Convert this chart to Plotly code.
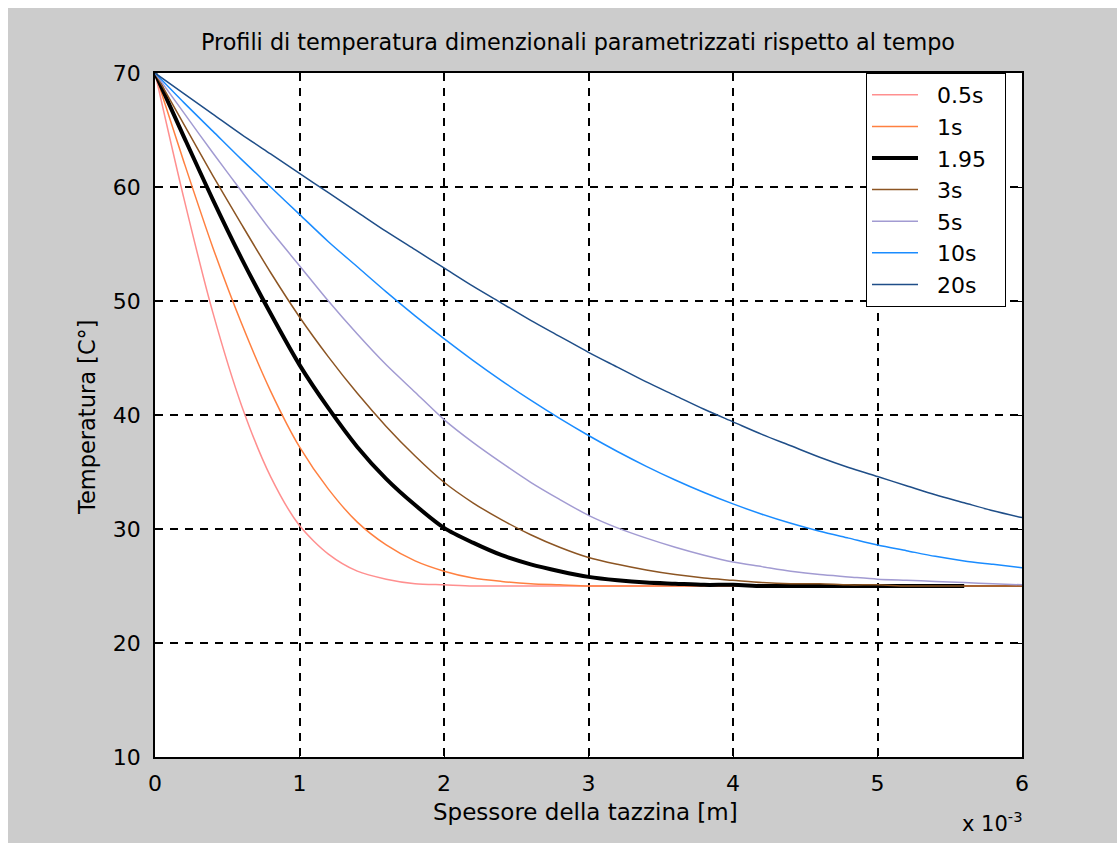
import plotly.graph_objects as go

# Thickness in units of 1e-3 m
thickness = [0.0, 0.2, 0.4, 0.6, 0.8, 1.0, 1.2, 1.4, 1.6, 1.8, 2.0, 2.2, 2.4, 2.6, 2.8,
             3.0, 3.2, 3.4, 3.6, 3.8, 4.0, 4.2, 4.4, 4.6, 4.8, 5.0, 5.2, 5.4, 5.6, 5.8, 6.0]

T_05s = [70.0, 59.0, 49.0, 40.8, 34.6, 30.3, 27.8, 26.3, 25.6, 25.2, 25.1, 25.0, 25.0, 25.0, 25.0,
         25.0, 25.0, 25.0, 25.0, 25.0, 25.0, 25.0, 25.0, 25.0, 25.0, 25.0, 25.0, 25.0, 25.0, 25.0, 25.0]
T_1s = [70.0, 62.2, 54.7, 48.0, 42.1, 37.2, 33.5, 30.6, 28.6, 27.2, 26.3, 25.7, 25.4, 25.2, 25.1,
        25.0, 25.0, 25.0, 25.0, 25.0, 25.0, 25.0, 25.0, 25.0, 25.0, 25.0, 25.0, 25.0, 25.0, 25.0, 25.0]
T_195 = [70.0, 64.4, 58.9, 53.7, 48.9, 44.4, 40.6, 37.2, 34.4, 32.1, 30.1, 28.8, 27.7, 26.9, 26.3,
         25.8, 25.5, 25.3, 25.2, 25.1, 25.1, 25.0, 25.0, 25.0, 25.0, 25.0, 25.0, 25.0, 25.0]
T_3s = [70.0, 65.5, 61.0, 56.7, 52.5, 48.6, 45.1, 41.9, 39.0, 36.4, 34.1, 32.3, 30.8, 29.5, 28.4,
        27.5, 26.9, 26.4, 26.0, 25.7, 25.5, 25.3, 25.2, 25.2, 25.1, 25.1, 25.0, 25.0, 25.0, 25.0, 25.0]
T_5s = [70.0, 66.5, 63.0, 59.6, 56.2, 53.1, 50.0, 47.1, 44.4, 42.0, 39.6, 37.6, 35.8, 34.1, 32.6,
        31.2, 30.1, 29.2, 28.4, 27.7, 27.1, 26.7, 26.3, 26.0, 25.8, 25.6, 25.5, 25.4, 25.3, 25.2, 25.1]
T_10s = [70.0, 67.4, 64.9, 62.4, 60.0, 57.6, 55.2, 53.0, 50.8, 48.7, 46.7, 44.8, 43.0, 41.3, 39.7,
         38.2, 36.8, 35.5, 34.3, 33.2, 32.2, 31.3, 30.5, 29.8, 29.2, 28.6, 28.1, 27.6, 27.2, 26.9, 26.6]
T_20s = [70.0, 68.2, 66.4, 64.6, 62.9, 61.2, 59.5, 57.8, 56.1, 54.5, 52.9, 51.3, 49.8, 48.3, 46.9,
         45.5, 44.2, 42.9, 41.7, 40.5, 39.4, 38.3, 37.3, 36.3, 35.4, 34.6, 33.8, 33.0, 32.3, 31.6, 31.0]

series_names = ["0.5s", "1s", "1.95", "3s", "5s", "10s", "20s"]
series_values = [T_05s, T_1s, T_195, T_3s, T_5s, T_10s, T_20s]
series_colors = ["#ff8f8f", "#ff8040", "#000000", "#8c5523", "#a29bd2", "#1a8cff", "#1f4e88"]
series_widths = [1.5, 1.5, 4, 1.5, 1.5, 1.5, 1.5]

x_ticks = [0, 1, 2, 3, 4, 5, 6]
y_ticks = [10, 20, 30, 40, 50, 60, 70]

FONT = "DejaVu Sans"
W, H = 1117, 843
L, R, T, B = 155, 95, 73, 86
pw, ph = W - L - R, H - T - B


def px_x(p):
    return (p - L) / pw


def px_y(p):
    return (H - B - p) / ph


NB = "\u00a0"

fig = go.Figure()
for name, vals, col, lw in zip(series_names, series_values, series_colors, series_widths):
    fig.add_trace(go.Scatter(
        x=thickness[:len(vals)], y=vals, mode="lines", name=NB * 2 + name + NB * 2,
        line=dict(color=col, width=lw, shape="spline", smoothing=0.8),
    ))

axis_common = dict(
    showline=True, linecolor="#000000", linewidth=1.5, mirror="ticks",
    ticks="inside", ticklen=7, tickcolor="#000000", tickwidth=1,
    showgrid=True, gridcolor="#000000", gridwidth=1.5, griddash="8px,7px",
    zeroline=False, tickfont=dict(family=FONT, size=22, color="#000000"),
)

fig.update_xaxes(range=[0, 6], tickvals=x_ticks, ticktext=[str(v) for v in x_ticks],
                 ticklabelstandoff=6, **axis_common)
fig.update_yaxes(range=[10, 70], tickvals=y_ticks, ticktext=[str(v) for v in y_ticks],
                 ticklabelstandoff=8, **axis_common)

fig.update_layout(
    width=W, height=H,
    margin=dict(l=L, r=R, t=T, b=B, pad=0),
    paper_bgcolor="#ffffff", plot_bgcolor="#ffffff",
    font=dict(family=FONT, size=22, color="#000000"),
    title=dict(text="Profili di temperatura dimenzionali parametrizzati rispetto al tempo",
               x=px_x(578), xref="paper", xanchor="center",
               y=1 - 42 / H, yref="container", yanchor="middle",
               font=dict(family=FONT, size=22.3, color="#000000")),
    legend=dict(x=px_x(866), y=1, xanchor="left", yanchor="top", xref="paper", yref="paper",
                bgcolor="#ffffff", bordercolor="#000000", borderwidth=1,
                font=dict(family=FONT, size=22, color="#000000"), itemwidth=46,
                tracegroupgap=0),
    shapes=[
        dict(type="rect", xref="paper", yref="paper", x0=px_x(8), x1=px_x(W + 10),
             y0=px_y(H + 10), y1=px_y(8), fillcolor="#cccccc", line=dict(width=0), layer="below"),
        dict(type="rect", xref="paper", yref="paper", x0=0, x1=1, y0=0, y1=1,
             fillcolor="#ffffff", line=dict(width=0), layer="below"),
    ],
    annotations=[
        dict(text="Spessore della tazzina [m]", xref="paper", yref="paper",
             x=px_x(585), y=px_y(812), xanchor="center", yanchor="middle", showarrow=False,
             font=dict(family=FONT, size=23, color="#000000")),
        dict(text="Temperatura [C°]", xref="paper", yref="paper", textangle=-90,
             x=px_x(87), y=px_y(417), xanchor="center", yanchor="middle", showarrow=False,
             font=dict(family=FONT, size=22.5, color="#000000")),
        dict(text="x 10<sup>-3</sup>", xref="paper", yref="paper",
             x=px_x(1024), y=px_y(822), xanchor="right", yanchor="middle", showarrow=False,
             font=dict(family=FONT, size=21, color="#000000")),
    ],
)

fig.write_html("out.html")
